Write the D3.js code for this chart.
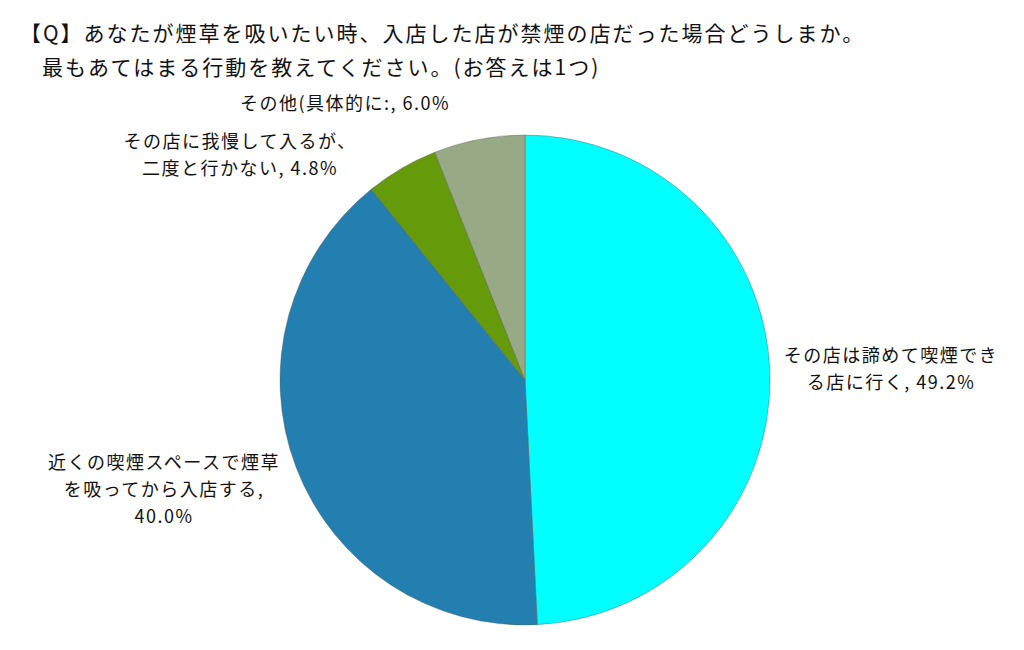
<!DOCTYPE html>
<html lang="ja">
<head>
<meta charset="utf-8">
<script src="https://cdn.jsdelivr.net/npm/d3@7"></script>
<style>
  body { margin: 0; background: #fff; }
  svg text { font-family: "Noto Sans CJK JP", sans-serif; fill: #111; }
</style>
</head>
<body>
<div id="chart"></div>
<script>
// data
const categories = [
  "その店は諦めて喫煙できる店に行く",
  "近くの喫煙スペースで煙草を吸ってから入店する",
  "その店に我慢して入るが、二度と行かない",
  "その他(具体的に:"
];
const shares = [49.2, 40.0, 4.8, 6.0];
const labelLines = [
  ["その店は諦めて喫煙でき", "る店に行く, 49.2%"],
  ["近くの喫煙スペースで煙草", "を吸ってから入店する,", "40.0%"],
  ["その店に我慢して入るが、", "二度と行かない, 4.8%"],
  ["その他(具体的に:, 6.0%"]
];
const titleLines = [
  "【Q】あなたが煙草を吸いたい時、入店した店が禁煙の店だった場合どうしまか。",
  "最もあてはまる行動を教えてください。(お答えは1つ)"
];

// layout
const width = 1024, height = 650;
const cx = 525, cy = 380, radius = 245;
const colors = ["#00ffff", "#237fb0", "#659a0a", "#98aa85"];
// label centre (x, first-line y) per slice
const labelPos = [[891, 362], [164, 469], [240, 148], [345, 110]];
const lineGap = 27;

const svg = d3.select("#chart").append("svg")
  .attr("width", width)
  .attr("height", height);

const title = svg.append("g")
  .style("font-size", "21px")
  .style("letter-spacing", "2px");
title.append("text").attr("x", 20).attr("y", 41).text(titleLines[0]);
title.append("text").attr("x", 42).attr("y", 75).text(titleLines[1]);

const pie = d3.pie().sort(null).value(d => d);
const arcGen = d3.arc().innerRadius(0).outerRadius(radius);
const arcs = pie(shares);

const g = svg.append("g").attr("transform", `translate(${cx},${cy})`);
g.selectAll("path")
  .data(arcs)
  .join("path")
  .attr("d", arcGen)
  .attr("fill", (d, i) => colors[i])
  .attr("stroke", "#555")
  .attr("stroke-width", 0.4);

const labels = svg.selectAll("text.lbl")
  .data(arcs)
  .join("text")
  .attr("class", "lbl")
  .attr("text-anchor", "middle")
  .style("font-size", "18px")
  .style("letter-spacing", "1.5px");

labels.each(function (d, i) {
  const t = d3.select(this);
  labelLines[i].forEach((line, k) => {
    t.append("tspan")
      .attr("x", labelPos[i][0])
      .attr("y", labelPos[i][1] + k * lineGap)
      .text(line);
  });
});
</script>
</body>
</html>
